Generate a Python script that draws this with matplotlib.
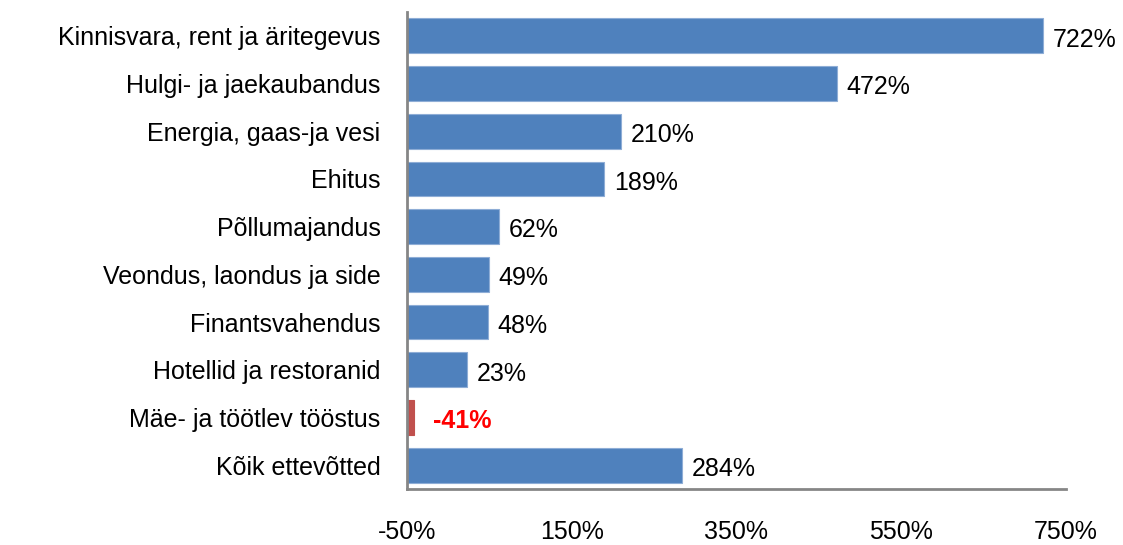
import matplotlib
matplotlib.use("Agg")
import matplotlib.pyplot as plt

categories = ["Kinnisvara, rent ja äritegevus", "Hulgi- ja jaekaubandus",
              "Energia, gaas-ja vesi", "Ehitus", "Põllumajandus",
              "Veondus, laondus ja side", "Finantsvahendus",
              "Hotellid ja restoranid", "Mäe- ja töötlev tööstus",
              "Kõik ettevõtted"]
values = [722, 472, 210, 189, 62, 49, 48, 23, -41, 284]
xticks = [-50, 150, 350, 550, 750]
baseline = -50

plt.rcParams['font.family'] = ['Liberation Sans', 'DejaVu Sans']
FS = 18

fig = plt.figure(figsize=(11.23, 5.45), dpi=100)
ax = fig.add_axes([0.3624, 0.1028, 0.9492 - 0.3624, 0.978 - 0.1028])

y = list(range(len(categories)))
colors = ["#C0504D" if v < 0 else "#4F81BD" for v in values]
edges = ["#C0504D" if v < 0 else "#8EADD6" for v in values]
ax.barh(y, [v - baseline for v in values], left=baseline, height=0.73,
        color=colors, edgecolor=edges, linewidth=0.8)

for yi, v in zip(y, values):
    if v < 0:
        ax.text(v + 22, yi + 0.08, f"{v}%", color="red", fontweight="bold",
                fontsize=FS, va="center", ha="left")
    else:
        ax.text(v + 12, yi + 0.08, f"{v}%", color="black",
                fontsize=FS, va="center", ha="left")

ax.set_xlim(-50, 750)
ax.set_ylim(len(categories) - 0.5, -0.5)
ax.set_yticks(y)
ax.set_yticklabels(categories, fontsize=FS)
ax.set_xticks(xticks)
ax.set_xticklabels([f"{t}%" for t in xticks], fontsize=FS)
ax.tick_params(axis='both', length=0)
ax.tick_params(axis='y', pad=19)
ax.tick_params(axis='x', pad=22)
for s in ["top", "right"]:
    ax.spines[s].set_visible(False)
for s in ["left", "bottom"]:
    ax.spines[s].set_color("#868686")
    ax.spines[s].set_linewidth(2)

fig.savefig("out.png", dpi=100)
